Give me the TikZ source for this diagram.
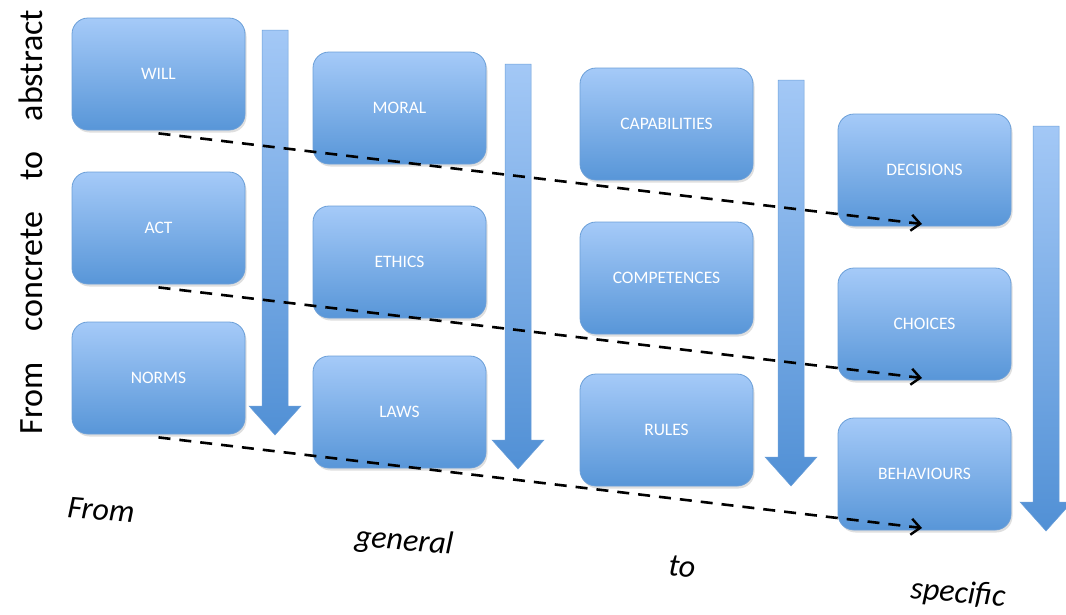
\documentclass[tikz,border=0pt]{standalone}
\usepackage{fontspec}
\setmainfont{Carlito}
\usetikzlibrary{arrows.meta,shadows}
\definecolor{boxtop}{HTML}{A5CAF8}
\definecolor{boxbot}{HTML}{5896D8}
\definecolor{boxedge}{HTML}{6B9FD8}
\definecolor{arrtop}{HTML}{A3C8F6}
\definecolor{arrbot}{HTML}{5190D5}
\tikzset{
  conc/.style={rectangle, rounded corners=16pt, minimum width=173pt, minimum height=112pt,
    top color=boxtop, bottom color=boxbot, draw=boxedge, line width=0.8pt,
    text=white, font=\fontsize{17.5}{20}\selectfont,
    drop shadow={shadow xshift=1.5pt, shadow yshift=-2.5pt, opacity=0.25}},
  bigarrow/.style={top color=arrtop, bottom color=arrbot, draw=boxedge, line width=0.5pt},
  link/.style={line width=2.6pt, dash pattern=on 12pt off 9pt, -{Straight Barb[length=9pt,width=16pt,line width=2.4pt]}},
  axis/.style={font=\fontsize{32}{36}\selectfont\itshape, rotate=-5}
}
\begin{document}
\begin{tikzpicture}[x=1pt,y=-1pt]
\useasboundingbox (0,0) rectangle (1066,614);
% big down arrows
\path[bigarrow] (262,30) -- (288,30) -- (288,406) -- (301,406) -- (275,435) -- (249,406) -- (262,406) -- cycle;
\path[bigarrow] (505,64) -- (531,64) -- (531,440) -- (544,440) -- (518,469) -- (492,440) -- (505,440) -- cycle;
\path[bigarrow] (778,80) -- (804,80) -- (804,457) -- (817,457) -- (791,486) -- (765,457) -- (778,457) -- cycle;
\path[bigarrow] (1033,126) -- (1059,126) -- (1059,502) -- (1072,502) -- (1046,531) -- (1020,502) -- (1033,502) -- cycle;
% boxes
\node[conc] (will) at (158.5,74) {WILL};
\node[conc] (act) at (158.5,228) {ACT};
\node[conc] (norms) at (158.5,378) {NORMS};
\node[conc] (moral) at (399.5,108) {MORAL};
\node[conc] (ethics) at (399.5,262) {ETHICS};
\node[conc] (laws) at (399.5,412) {LAWS};
\node[conc] (capab) at (666.5,124) {CAPABILITIES};
\node[conc] (compet) at (666.5,278) {COMPETENCES};
\node[conc] (rules) at (666.5,430) {RULES};
\node[conc] (decis) at (924.5,170) {DECISIONS};
\node[conc] (choic) at (924.5,324) {CHOICES};
\node[conc] (behav) at (924.5,474) {BEHAVIOURS};
% dashed links
\coordinate (d1) at (922,224);
\coordinate (d2) at (922,378);
\coordinate (d3) at (922,528);
\draw[link] ([yshift=-3pt]will.south) -- (d1);
\draw[link] ([yshift=-3pt]act.south) -- (d2);
\draw[link] ([yshift=-3pt]norms.south) -- (d3);
% labels
\node[rotate=90, font=\fontsize{34}{38}\selectfont] (side) at (31,222) {From\hspace{0.9em}concrete\hspace{0.9em}to\hspace{0.9em}abstract};
\node[axis] (lfrom) at (101,510) {From};
\node[axis] (lgen) at (404,542) {general};
\node[axis] (lto) at (682,567) {to};
\node[axis] (lspec) at (958,594) {specific};
\end{tikzpicture}
\end{document}
